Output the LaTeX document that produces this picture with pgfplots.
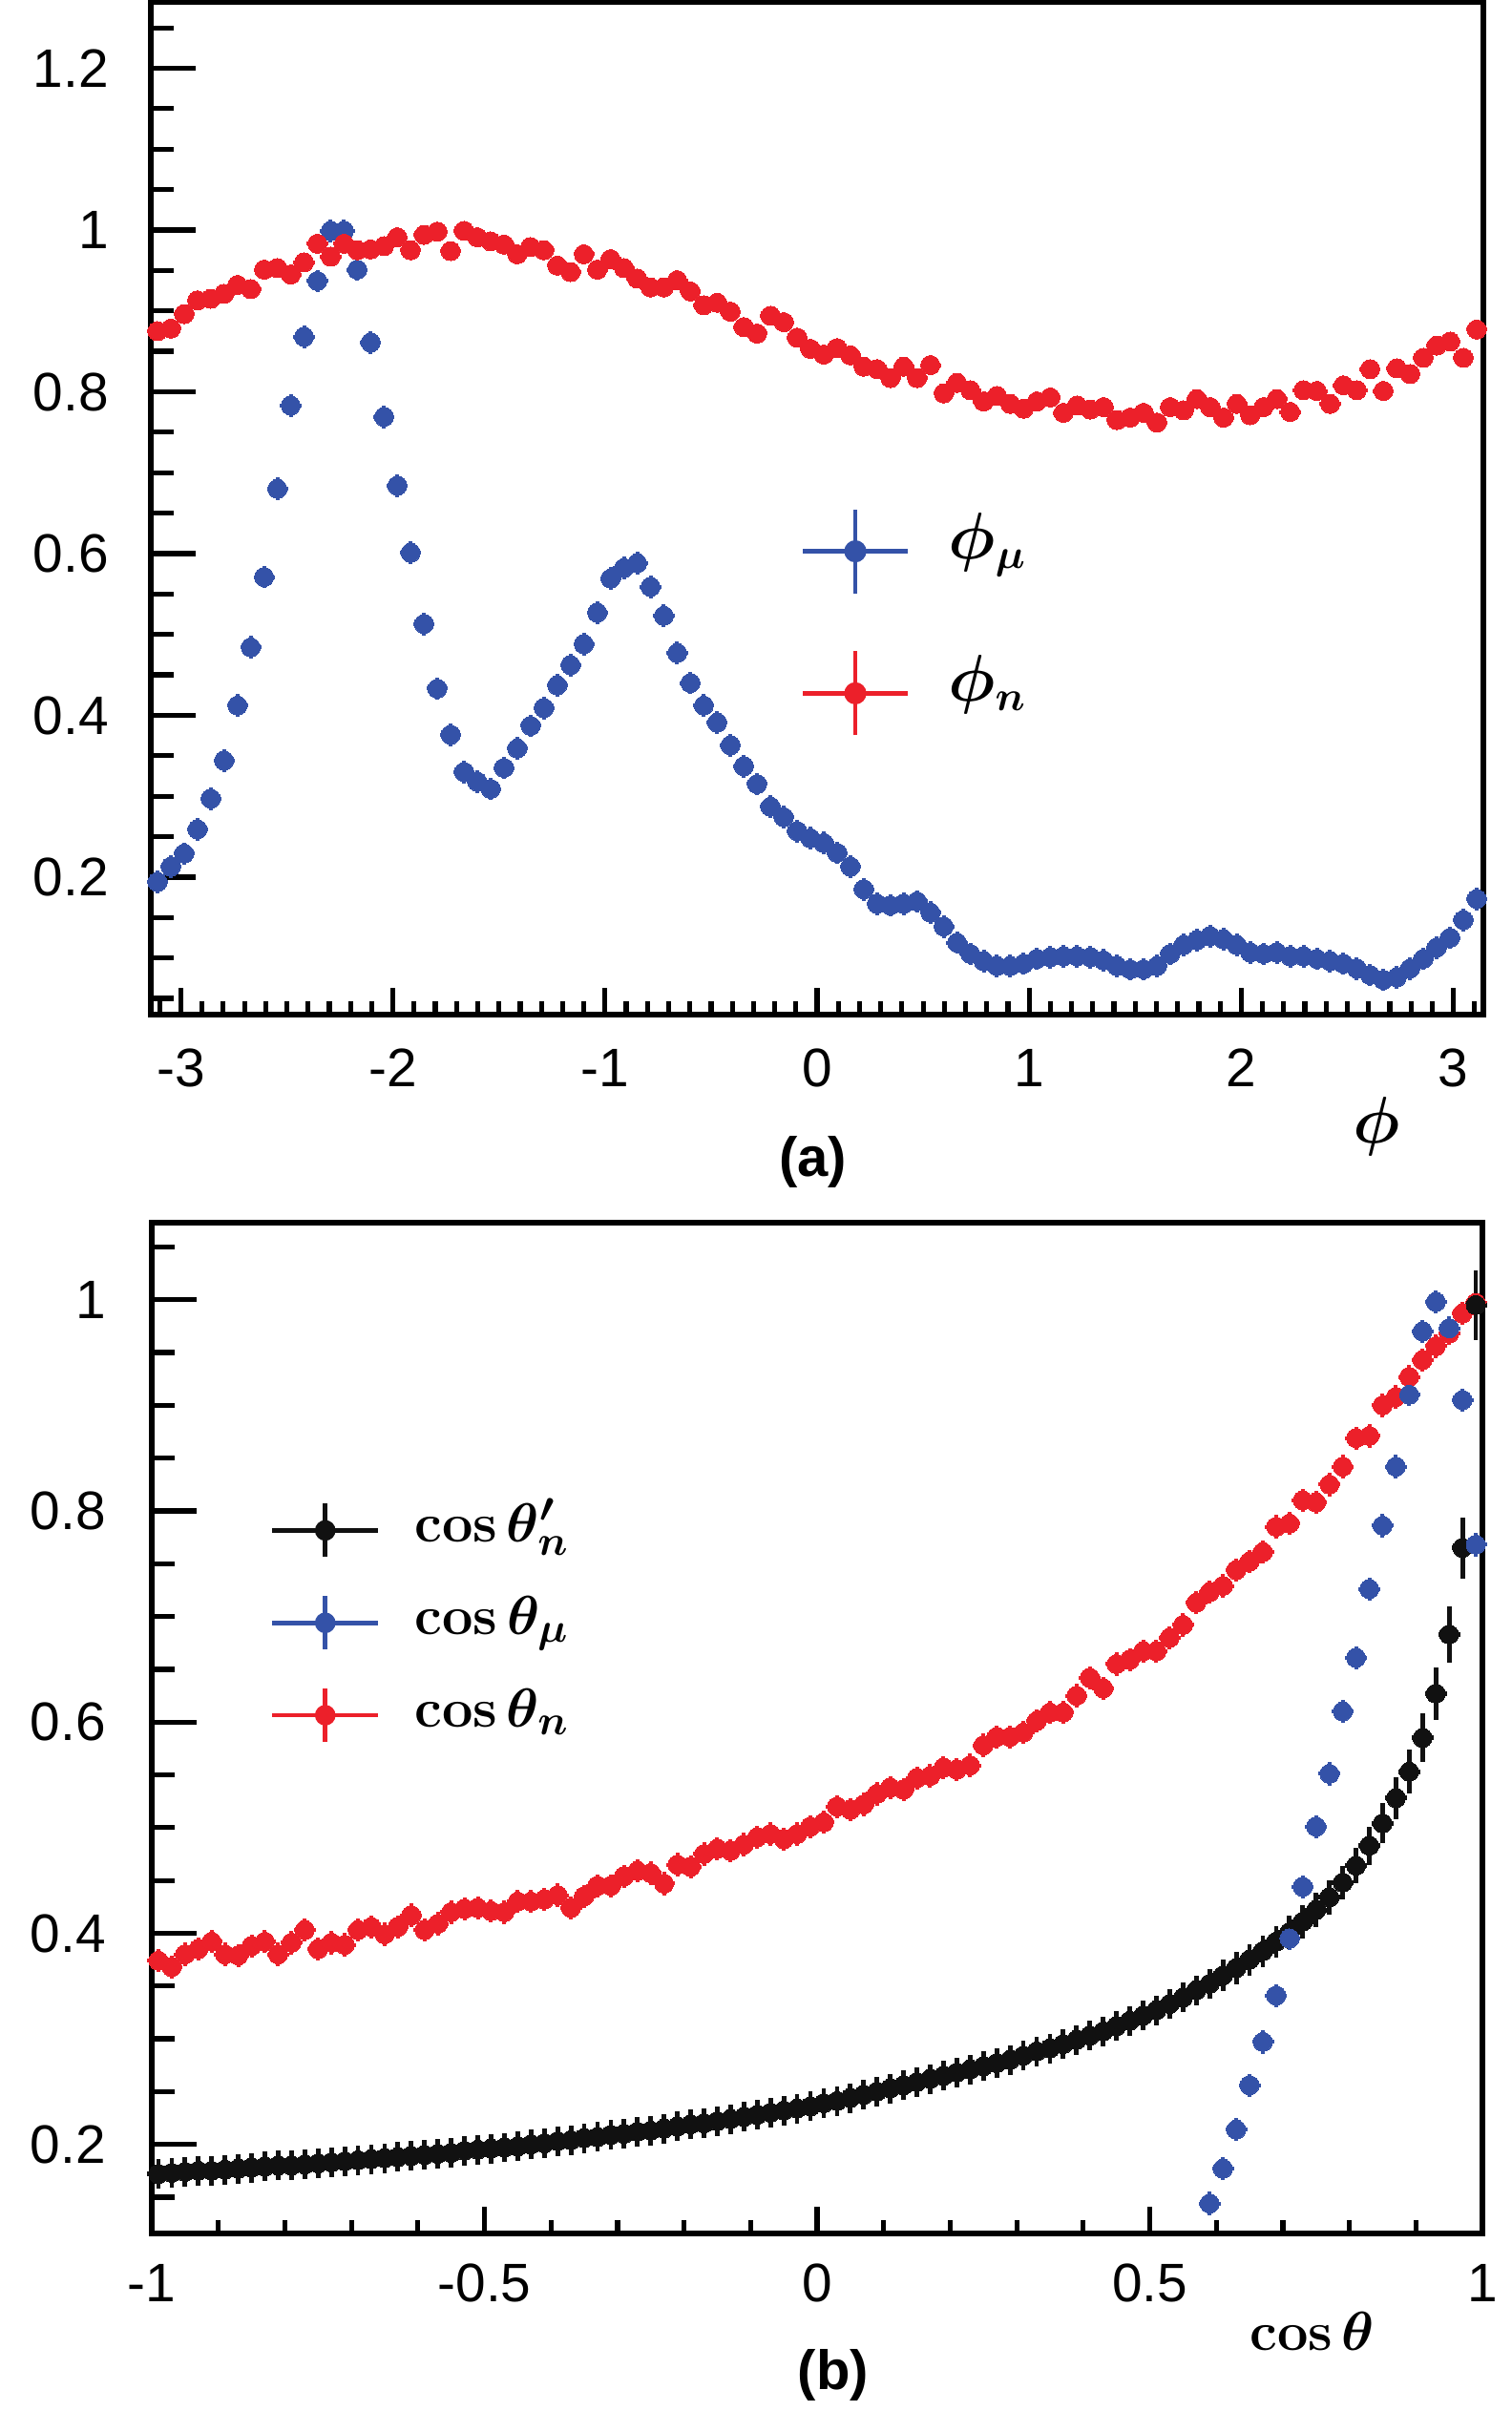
\documentclass[border=0pt]{standalone}
\usepackage{pgfplots}
\pgfplotsset{compat=1.18}
\usepackage{pgfplotstable}
\usepackage[no-math]{fontspec}
\setmainfont{Liberation Sans}
\usepackage{bm}
\definecolor{rblue}{RGB}{52,82,168}
\definecolor{rred}{RGB}{236,32,42}
\definecolor{rblack}{RGB}{17,17,17}

\pgfplotstableread{
x mu n
-3.1102 0.194 0.875
-3.0473 0.213 0.878
-2.9845 0.229 0.896
-2.9217 0.259 0.913
-2.8588 0.297 0.915
-2.7960 0.344 0.921
-2.7332 0.412 0.932
-2.6704 0.484 0.927
-2.6075 0.571 0.951
-2.5447 0.680 0.953
-2.4819 0.783 0.945
-2.4190 0.868 0.960
-2.3562 0.937 0.983
-2.2934 0.999 0.967
-2.2305 0.999 0.983
-2.1677 0.951 0.975
-2.1049 0.861 0.976
-2.0420 0.769 0.980
-1.9792 0.684 0.991
-1.9164 0.601 0.975
-1.8535 0.513 0.994
-1.7907 0.433 0.998
-1.7279 0.376 0.974
-1.6650 0.330 0.999
-1.6022 0.318 0.991
-1.5394 0.309 0.986
-1.4765 0.335 0.982
-1.4137 0.359 0.970
-1.3509 0.387 0.979
-1.2881 0.409 0.975
-1.2252 0.437 0.956
-1.1624 0.462 0.948
-1.0996 0.488 0.970
-1.0367 0.527 0.951
-0.9739 0.569 0.964
-0.9111 0.582 0.953
-0.8482 0.588 0.940
-0.7854 0.559 0.929
-0.7226 0.523 0.929
-0.6597 0.477 0.938
-0.5969 0.440 0.924
-0.5341 0.412 0.907
-0.4712 0.391 0.910
-0.4084 0.363 0.899
-0.3456 0.337 0.880
-0.2827 0.315 0.872
-0.2199 0.287 0.894
-0.1571 0.274 0.886
-0.0942 0.257 0.867
-0.0314 0.248 0.853
0.0314 0.242 0.846
0.0942 0.230 0.854
0.1571 0.213 0.845
0.2199 0.185 0.831
0.2827 0.167 0.828
0.3456 0.165 0.817
0.4084 0.167 0.831
0.4712 0.170 0.817
0.5341 0.156 0.833
0.5969 0.139 0.798
0.6597 0.119 0.811
0.7226 0.105 0.802
0.7854 0.096 0.788
0.8482 0.090 0.795
0.9111 0.090 0.785
0.9739 0.093 0.779
1.0367 0.099 0.788
1.0996 0.101 0.793
1.1624 0.102 0.774
1.2252 0.102 0.783
1.2881 0.101 0.778
1.3509 0.097 0.781
1.4137 0.090 0.765
1.4765 0.086 0.768
1.5394 0.086 0.774
1.6022 0.090 0.762
1.6650 0.105 0.781
1.7279 0.116 0.777
1.7907 0.122 0.791
1.8535 0.127 0.781
1.9164 0.123 0.768
1.9792 0.116 0.785
2.0420 0.107 0.771
2.1049 0.105 0.781
2.1677 0.107 0.791
2.2305 0.102 0.775
2.2934 0.102 0.802
2.3562 0.099 0.801
2.4190 0.096 0.785
2.4819 0.093 0.808
2.5447 0.087 0.802
2.6075 0.079 0.828
2.6704 0.073 0.801
2.7332 0.076 0.829
2.7960 0.087 0.822
2.8588 0.099 0.842
2.9217 0.113 0.857
2.9845 0.125 0.862
3.0473 0.147 0.842
3.1102 0.173 0.877
}\tabtop

\pgfplotstableread{
x b eb r
-0.99 0.172 0.014 0.374
-0.97 0.173 0.014 0.368
-0.95 0.174 0.014 0.380
-0.93 0.175 0.014 0.385
-0.91 0.175 0.014 0.392
-0.89 0.176 0.014 0.380
-0.87 0.177 0.014 0.379
-0.85 0.178 0.014 0.388
-0.83 0.179 0.014 0.392
-0.81 0.180 0.014 0.380
-0.79 0.180 0.014 0.391
-0.77 0.181 0.014 0.403
-0.75 0.182 0.014 0.385
-0.73 0.183 0.014 0.391
-0.71 0.184 0.014 0.389
-0.69 0.185 0.014 0.403
-0.67 0.186 0.014 0.406
-0.65 0.187 0.014 0.399
-0.63 0.188 0.014 0.406
-0.61 0.189 0.014 0.417
-0.59 0.190 0.014 0.403
-0.57 0.191 0.014 0.409
-0.55 0.192 0.014 0.420
-0.53 0.194 0.014 0.423
-0.51 0.195 0.014 0.424
-0.49 0.196 0.014 0.421
-0.47 0.197 0.014 0.420
-0.45 0.198 0.014 0.430
-0.43 0.200 0.014 0.430
-0.41 0.201 0.014 0.432
-0.39 0.203 0.014 0.436
-0.37 0.204 0.014 0.424
-0.35 0.206 0.014 0.435
-0.33 0.207 0.014 0.445
-0.31 0.209 0.014 0.445
-0.29 0.210 0.014 0.454
-0.27 0.212 0.014 0.459
-0.25 0.213 0.014 0.457
-0.23 0.215 0.014 0.447
-0.21 0.217 0.014 0.465
-0.19 0.219 0.014 0.463
-0.17 0.220 0.014 0.475
-0.15 0.222 0.014 0.480
-0.13 0.224 0.014 0.478
-0.11 0.226 0.014 0.484
-0.09 0.228 0.014 0.491
-0.07 0.230 0.014 0.494
-0.05 0.232 0.014 0.489
-0.03 0.234 0.014 0.494
-0.01 0.236 0.014 0.501
0.01 0.239 0.014 0.505
0.03 0.241 0.014 0.520
0.05 0.244 0.014 0.517
0.07 0.247 0.014 0.522
0.09 0.250 0.014 0.532
0.11 0.253 0.014 0.538
0.13 0.256 0.014 0.536
0.15 0.259 0.014 0.547
0.17 0.262 0.014 0.549
0.19 0.265 0.014 0.557
0.21 0.268 0.014 0.555
0.23 0.271 0.014 0.559
0.25 0.274 0.014 0.578
0.27 0.277 0.014 0.586
0.29 0.280 0.014 0.586
0.31 0.284 0.014 0.590
0.33 0.288 0.014 0.601
0.35 0.291 0.014 0.609
0.37 0.295 0.014 0.609
0.39 0.299 0.014 0.625
0.41 0.303 0.014 0.642
0.43 0.307 0.014 0.632
0.45 0.312 0.014 0.655
0.47 0.317 0.014 0.659
0.49 0.322 0.014 0.667
0.51 0.327 0.014 0.667
0.53 0.333 0.014 0.680
0.55 0.339 0.014 0.692
0.57 0.346 0.014 0.713
0.59 0.352 0.014 0.723
0.61 0.360 0.015 0.729
0.63 0.367 0.015 0.744
0.65 0.375 0.015 0.752
0.67 0.383 0.015 0.761
0.69 0.392 0.015 0.785
0.71 0.401 0.016 0.788
0.73 0.411 0.016 0.810
0.75 0.422 0.016 0.808
0.77 0.434 0.016 0.825
0.79 0.448 0.016 0.842
0.81 0.464 0.017 0.869
0.83 0.483 0.018 0.871
0.85 0.504 0.019 0.900
0.87 0.528 0.020 0.908
0.89 0.553 0.021 0.927
0.91 0.585 0.023 0.943
0.93 0.627 0.025 0.956
0.95 0.683 0.027 0.968
0.97 0.765 0.029 0.987
0.99 0.995 0.033 0.997
}\tabbot

\pgfplotstableread{
x mu
0.59 0.144
0.61 0.177
0.63 0.214
0.65 0.256
0.67 0.297
0.69 0.341
0.71 0.395
0.73 0.444
0.75 0.501
0.77 0.551
0.79 0.610
0.81 0.661
0.83 0.726
0.85 0.786
0.87 0.842
0.89 0.910
0.91 0.970
0.93 0.998
0.95 0.973
0.97 0.905
0.99 0.768
}\tabbotmu

\pgfplotsset{
  rootaxis/.style={
    scale only axis,
    clip=false,
    axis line style={line width=1.3pt, black},
    tick style={line width=1.3pt, black},
    tick align=inside,
    tick pos=left,
    major tick length=11.75pt,
    minor tick length=5.9pt,
    xtick style={/pgfplots/major tick length=7.1pt, /pgfplots/minor tick length=3.6pt},
    ticklabel style={font=\fontsize{14.2}{17}\selectfont},
    legend cell align=left,
  },
  pts/.style={only marks, mark=*, mark size=2.5pt,
    mark options={solid, line width=0pt}},
  topleg/.style={legend image code/.code={
    \draw[line width=1.2pt] (0pt,0pt) -- (27.5pt,0pt);
    \draw[line width=1.2pt] (13.75pt,-11pt) -- (13.75pt,11pt);
    \fill (13.75pt,0pt) circle (2.7pt);}},
  botleg/.style={legend image code/.code={
    \draw[line width=1.2pt] (0pt,0pt) -- (27.75pt,0pt);
    \draw[line width=1.2pt] (13.9pt,-7pt) -- (13.9pt,7pt);
    \fill (13.9pt,0pt) circle (2.5pt);}},
}

\begin{document}
\begin{tikzpicture}
\path[use as bounding box] (0pt,0pt) rectangle (396pt,-631.5pt);

% ---------------- (a) ----------------
\begin{axis}[rootaxis, name=top,
  at={(39.5pt,-0.5pt)}, anchor=north west,
  width=349pt, height=265.25pt,
  xmin=-3.14159, xmax=3.14159, ymin=0.030, ymax=1.282,
  xtick={-3,-2,-1,0,1,2,3}, xticklabels={-3,-2,-1,0,1,2,3},
  ytick={0.2,0.4,0.6,0.8,1.0,1.2}, yticklabels={0.2,0.4,0.6,0.8,1,1.2},
  minor xtick={-3.1,-3.0,...,3.1},
  minor ytick={0.05,0.10,...,1.25},
  xticklabel style={yshift=-5.5pt},
  yticklabel style={xshift=-7.5pt},
  xlabel={$\bm{\phi}$},
  x label style={at={(axis description cs:0.92,0)}, anchor=center, yshift=-29.25pt, font=\fontsize{16}{19}\selectfont},
  legend style={draw=none, fill=none, at={(axis description cs:0.487,0.502)}, anchor=north west,
    inner xsep=0pt, inner ysep=0pt, row sep=14pt, column sep=10pt,
    font=\fontsize{16}{19}\selectfont,
    nodes={inner sep=0pt, text height=8pt, text depth=4pt, anchor=center}},
]
\addplot[pts, color=rblue, forget plot,
  error bars/.cd, x dir=both, x fixed=0.05, y dir=both, y fixed=0.014,
  error mark=none, error bar style={line width=1pt}]
  table[x=x, y=mu] {\tabtop};
\addplot[pts, color=rred, forget plot,
  error bars/.cd, x dir=both, x fixed=0.05, y dir=both, y fixed=0.012,
  error mark=none, error bar style={line width=1pt}]
  table[x=x, y=n] {\tabtop};
\addlegendimage{topleg, color=rblue}
\addlegendentry{$\bm{\phi_{\mu}}$}
\addlegendimage{topleg, color=rred}
\addlegendentry{$\bm{\phi_{n}}$}
\node[font=\bfseries\fontsize{14.5}{17}\selectfont, anchor=center, yshift=-38.5pt] at (rel axis cs:0.497,0) {(a)};
\end{axis}

% ---------------- (b) ----------------
\begin{axis}[rootaxis, name=bot,
  at={(39.75pt,-320.25pt)}, anchor=north west,
  width=348.5pt, height=264.75pt,
  xmin=-1, xmax=1, ymin=0.1156, ymax=1.073,
  xtick={-1,-0.5,0,0.5,1}, xticklabels={-1,-0.5,0,0.5,1},
  ytick={0.2,0.4,0.6,0.8,1.0}, yticklabels={0.2,0.4,0.6,0.8,1},
  minor xtick={-1,-0.9,...,1},
  minor ytick={0.15,0.20,...,1.05},
  xticklabel style={yshift=-4.5pt},
  yticklabel style={xshift=-8.5pt},
  xlabel={$\mathbf{cos}\,\bm{\theta}$},
  x label style={at={(axis description cs:0.872,0)}, anchor=center, yshift=-25.5pt, font=\fontsize{15}{18}\selectfont},
  legend style={draw=none, fill=none, at={(axis description cs:0.0882,0.725)}, anchor=north west,
    inner xsep=0pt, inner ysep=0pt, row sep=9pt, column sep=9pt,
    font=\fontsize{15}{18}\selectfont,
    nodes={inner sep=0pt, text height=10pt, text depth=4pt, anchor=center}},
]
\addplot[pts, color=rred, forget plot,
  error bars/.cd, x dir=both, x fixed=0.0165, y dir=both, y fixed=0.011,
  error mark=none, error bar style={line width=1pt}]
  table[x=x, y=r] {\tabbot};
\addplot[pts, color=rblack, forget plot,
  error bars/.cd, x dir=both, x fixed=0.0165, y dir=both, y explicit,
  error mark=none, error bar style={line width=1.2pt}]
  table[x=x, y=b, y error=eb] {\tabbot};
\addplot[pts, color=rblue, forget plot,
  error bars/.cd, x dir=both, x fixed=0.0165, y dir=both, y fixed=0.011,
  error mark=none, error bar style={line width=1pt}]
  table[x=x, y=mu] {\tabbotmu};
\addlegendimage{botleg, color=rblack}
\addlegendentry{$\mathbf{cos}\,\bm{\theta'_{n}}$}
\addlegendimage{botleg, color=rblue}
\addlegendentry{$\mathbf{cos}\,\bm{\theta_{\mu}}$}
\addlegendimage{botleg, color=rred}
\addlegendentry{$\mathbf{cos}\,\bm{\theta_{n}}$}
\node[font=\bfseries\fontsize{14.5}{17}\selectfont, anchor=center, yshift=-37pt] at (rel axis cs:0.512,0) {(b)};
\end{axis}
\end{tikzpicture}
\end{document}
